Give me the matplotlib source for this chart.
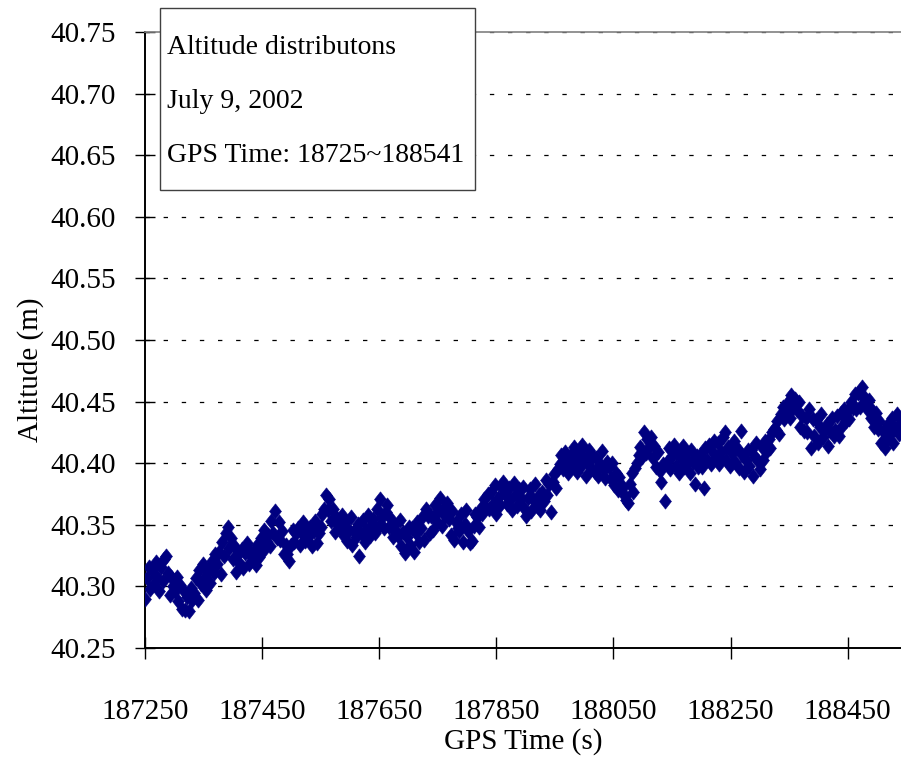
import numpy as np
import matplotlib
matplotlib.use('Agg')
import matplotlib.pyplot as plt
from matplotlib.path import Path
from matplotlib.patches import Rectangle

plt.rcParams['font.family'] = ['Liberation Serif', 'DejaVu Serif']

# GPS epochs start at 187250 s and are logged every 3 s
t_start = 187250
t_step = 3

# Altitude above 40 m, in millimetres
alt_mm = [
    290, 307, 316, 298, 313, 302, 320, 308, 296,
    316, 304, 322, 325, 311, 293, 308, 300,
    296, 308, 288, 301, 282,
    296, 281, 291, 280, 299, 289,
    295, 307, 289, 313, 302, 318, 308, 297,
    313, 303, 321, 311, 326, 318,
    328, 310, 336, 325, 343,
    348, 331, 339, 322, 332, 312, 326, 318,
    330, 315, 327, 335, 318, 329, 324,
    328, 317, 334, 324, 339, 329, 346, 337,
    342, 333, 353, 343, 361, 339,
    352, 338, 345, 326, 334,
    326, 321, 334, 346, 336, 343,
    347, 334, 344, 352, 337, 346, 340,
    348, 333, 345, 353, 335, 343,
    348, 359, 363, 374,
    362, 371, 353, 363, 344, 356, 350,
    347, 358, 341, 352, 337, 346, 356, 334, 345, 340,
    351, 325, 343, 354, 336, 346, 358, 341, 351,
    355, 343, 363, 349, 371, 356, 347, 360,
    366, 348, 355, 340, 350, 345,
    341, 354, 333, 344, 327, 340, 348,
    334, 347, 328, 343, 352, 336, 347, 357, 338, 363, 357,
    343, 357, 346, 366, 352, 361, 372, 349, 364, 357,
    368, 355, 342, 361, 338, 352, 347,
    345, 359, 336, 351, 362, 345, 335, 337, 349, 359,
    356, 348, 364, 359, 371, 364, 375,
    363, 377, 367, 382, 359, 372, 366, 380, 385, 375,
    367, 380, 370, 362, 384, 375, 365, 379, 372,
    381, 364, 357, 372, 379, 361, 371, 383, 365, 374,
    362, 377, 369, 386, 374, 383, 360,
    385, 391, 380, 395, 399, 407,
    395, 409, 401, 392, 406, 398, 413, 402,
    393, 408, 398, 415, 404, 390, 401, 411, 396, 406, 393,
    404, 390, 399, 410, 395, 388, 401,
    397, 387, 400, 382, 392, 378, 389, 381,
    381, 373, 370, 368,
    383, 392, 377, 396, 400, 407, 413,
    405, 425, 408, 420,
    413, 421, 404, 414, 397, 409, 394, 385, 399, 369,
    401, 412, 395, 406, 415, 398, 410, 392, 404,
    414, 397, 408, 402, 392, 411, 401, 383, 406, 397,
    407, 397, 380, 412, 403, 415, 399, 410, 418,
    404, 416, 399, 409, 421, 425, 403, 413, 398,
    408, 418, 401, 412, 396, 426, 407, 393, 403, 411,
    398, 411, 390, 405, 416, 402, 395, 413, 403, 418,
    410, 420, 412, 425, 428,
    427, 434, 424, 440, 446, 436,
    442, 450, 437, 455, 445, 452,
    443, 450, 429, 438, 426,
    437, 425, 444, 412, 436, 422,
    435, 416, 429, 440, 421, 428,
    432, 414, 426, 437, 422,
    427, 438, 422, 441, 430, 444,
    434, 443, 436, 450, 445, 456,
    444, 457, 446, 462, 453,
    453, 444, 451, 437, 443, 429,
    441, 428, 434, 416, 426, 412,
    418, 432, 424, 437, 416, 428, 440, 424, 433,
]

x_ticks = [187250, 187450, 187650, 187850, 188050, 188250, 188450]
y_ticks = [40.25, 40.30, 40.35, 40.40, 40.45, 40.50, 40.55, 40.60, 40.65, 40.70, 40.75]
info_lines = ['Altitude distributons', 'July 9, 2002', 'GPS Time: 18725~188541']

gps_time = t_start + t_step * np.arange(len(alt_mm))
altitude = 40.0 + np.array(alt_mm) / 1000.0

# slightly tall diamond marker
diamond = Path([(0, 1), (0.78, 0), (0, -1), (-0.78, 0), (0, 1)],
               [Path.MOVETO, Path.LINETO, Path.LINETO, Path.LINETO, Path.CLOSEPOLY])

fig = plt.figure(figsize=(9.01, 7.63), dpi=100)
ax = fig.add_axes([145/901, 1 - 648/763, 1 - 145/901, (648 - 32)/763])

ax.plot(gps_time, altitude, linestyle='none', marker=diamond, ms=11,
        color='#000080', mec='#000080', mew=0.4, zorder=3)

ax.set_xlim(187250, 188541)
ax.set_ylim(40.25, 40.75)
ax.set_xticks(x_ticks)
ax.set_yticks(y_ticks)
ax.set_xticklabels([str(v) for v in x_ticks])
ax.set_yticklabels(['%.2f' % v for v in y_ticks])

for v in y_ticks[1:]:
    ax.axhline(v, color='black', lw=0.9, dashes=(3.5, 11), zorder=1)

ax.spines['right'].set_visible(False)
ax.spines['top'].set_color('#808080')
ax.spines['top'].set_linewidth(1.2)
ax.spines['left'].set_linewidth(1.4)
ax.spines['bottom'].set_linewidth(1.4)
ax.tick_params(axis='y', direction='inout', length=14, width=1, pad=14,
               labelsize=21)
ax.tick_params(axis='x', direction='inout', length=16, width=1, pad=29,
               labelsize=21)

ax.set_ylabel('Altitude (m)', fontsize=21)
ax.yaxis.set_label_coords(-0.133, 0.451)
ax.set_xlabel('GPS Time (s)', fontsize=21)
ax.xaxis.set_label_coords(0.5, -0.13)

# info box in the upper left corner
fig.patches.append(Rectangle((160/901, 1 - 190/763), 315/901, 182/763,
                             transform=fig.transFigure, fill=True,
                             facecolor='white', edgecolor='#404040', lw=1,
                             zorder=5))
for i, txt in enumerate(info_lines):
    fig.text(167/901, 1 - (48 + 54*i)/763, txt, fontsize=20,
             va='center', ha='left', zorder=6)

fig.savefig('out.png', dpi=100)
